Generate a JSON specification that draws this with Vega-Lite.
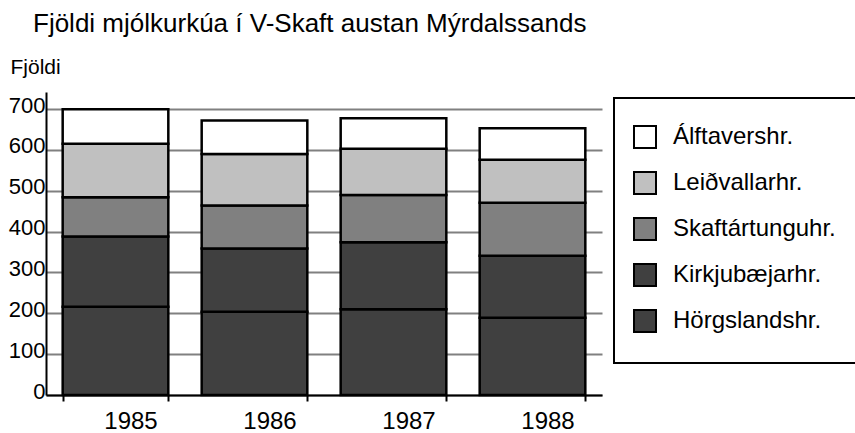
{
  "$schema": "https://vega.github.io/schema/vega-lite/v6.json",
  "width": 556,
  "height": 303,
  "autosize": {"type": "none"},
  "padding": {"left": 46, "top": 92, "right": 253, "bottom": 38},
  "background": "white",
  "title": {
    "text": "Fjöldi mjólkurkúa í V-Skaft austan Mýrdalssands",
    "anchor": "start",
    "frame": "group",
    "dx": -13,
    "dy": 22,
    "offset": 20,
    "baseline": "alphabetic",
    "fontSize": 26,
    "font": "Liberation Sans",
    "fontWeight": "normal",
    "color": "black"
  },
  "config": {
    "view": {"stroke": null},
    "font": "Liberation Sans"
  },
  "data": {
    "values": [
      {"year": "1985", "hreppur": "Hörgslandshr.", "rod": 1, "fjoldi": 216},
      {"year": "1985", "hreppur": "Kirkjubæjarhr.", "rod": 2, "fjoldi": 172},
      {"year": "1985", "hreppur": "Skaftártunguhr.", "rod": 3, "fjoldi": 96},
      {"year": "1985", "hreppur": "Leiðvallarhr.", "rod": 4, "fjoldi": 131},
      {"year": "1985", "hreppur": "Álftavershr.", "rod": 5, "fjoldi": 85},
      {"year": "1986", "hreppur": "Hörgslandshr.", "rod": 1, "fjoldi": 204},
      {"year": "1986", "hreppur": "Kirkjubæjarhr.", "rod": 2, "fjoldi": 155},
      {"year": "1986", "hreppur": "Skaftártunguhr.", "rod": 3, "fjoldi": 105},
      {"year": "1986", "hreppur": "Leiðvallarhr.", "rod": 4, "fjoldi": 126},
      {"year": "1986", "hreppur": "Álftavershr.", "rod": 5, "fjoldi": 82},
      {"year": "1987", "hreppur": "Hörgslandshr.", "rod": 1, "fjoldi": 210},
      {"year": "1987", "hreppur": "Kirkjubæjarhr.", "rod": 2, "fjoldi": 164},
      {"year": "1987", "hreppur": "Skaftártunguhr.", "rod": 3, "fjoldi": 116},
      {"year": "1987", "hreppur": "Leiðvallarhr.", "rod": 4, "fjoldi": 113},
      {"year": "1987", "hreppur": "Álftavershr.", "rod": 5, "fjoldi": 75},
      {"year": "1988", "hreppur": "Hörgslandshr.", "rod": 1, "fjoldi": 189},
      {"year": "1988", "hreppur": "Kirkjubæjarhr.", "rod": 2, "fjoldi": 152},
      {"year": "1988", "hreppur": "Skaftártunguhr.", "rod": 3, "fjoldi": 130},
      {"year": "1988", "hreppur": "Leiðvallarhr.", "rod": 4, "fjoldi": 105},
      {"year": "1988", "hreppur": "Álftavershr.", "rod": 5, "fjoldi": 77}
    ]
  },
  "mark": {"type": "bar", "stroke": "black", "strokeWidth": 2.5, "opacity": 1},
  "encoding": {
    "x": {
      "field": "year",
      "type": "nominal",
      "scale": {"paddingInner": 0.24, "paddingOuter": 0.12},
      "axis": {
        "title": null,
        "labelAngle": 0,
        "labelFontSize": 24,
        "labelColor": "black",
        "labelPadding": 8,
        "labelOffset": 15,
        "tickBand": "extent",
        "tickColor": "black",
        "tickWidth": 2,
        "tickSize": 6,
        "domainColor": "black",
        "domainWidth": 2,
        "grid": false
      }
    },
    "y": {
      "field": "fjoldi",
      "type": "quantitative",
      "stack": "zero",
      "scale": {"domain": [0, 742], "nice": false},
      "axis": {
        "title": "Fjöldi",
        "titleAngle": 0,
        "titleFontSize": 21,
        "titleFontWeight": "normal",
        "titleColor": "black",
        "titleAlign": "left",
        "titleBaseline": "alphabetic",
        "titleX": -36,
        "titleY": -19,
        "values": [0, 100, 200, 300, 400, 500, 600, 700],
        "labelFontSize": 22,
        "labelColor": "black",
        "labelPadding": 1,
        "labelBaseline": "middle",
        "labelOffset": -4,
        "ticks": false,
        "domainColor": "black",
        "domainWidth": 2,
        "grid": true,
        "gridColor": "#808080",
        "gridWidth": 2
      }
    },
    "color": {
      "field": "hreppur",
      "type": "nominal",
      "scale": {
        "domain": ["Álftavershr.", "Leiðvallarhr.", "Skaftártunguhr.", "Kirkjubæjarhr.", "Hörgslandshr."],
        "range": ["#ffffff", "#c0c0c0", "#808080", "#404040", "#404040"]
      },
      "legend": {
        "title": null,
        "orient": "none",
        "legendX": 568,
        "legendY": 6,
        "padding": 27,
        "strokeColor": "black",
        "fillColor": "white",
        "symbolType": "square",
        "symbolSize": 484,
        "symbolStrokeColor": "black",
        "symbolStrokeWidth": 2,
        "symbolOpacity": 1,
        "symbolOffset": -8,
        "labelFontSize": 24,
        "labelColor": "black",
        "labelOffset": 16,
        "labelLimit": 300,
        "rowPadding": 16,
        "encode": {"legend": {"update": {"strokeWidth": {"value": 2}}}}
      }
    },
    "order": {"field": "rod", "type": "quantitative", "sort": "ascending"}
  }
}
